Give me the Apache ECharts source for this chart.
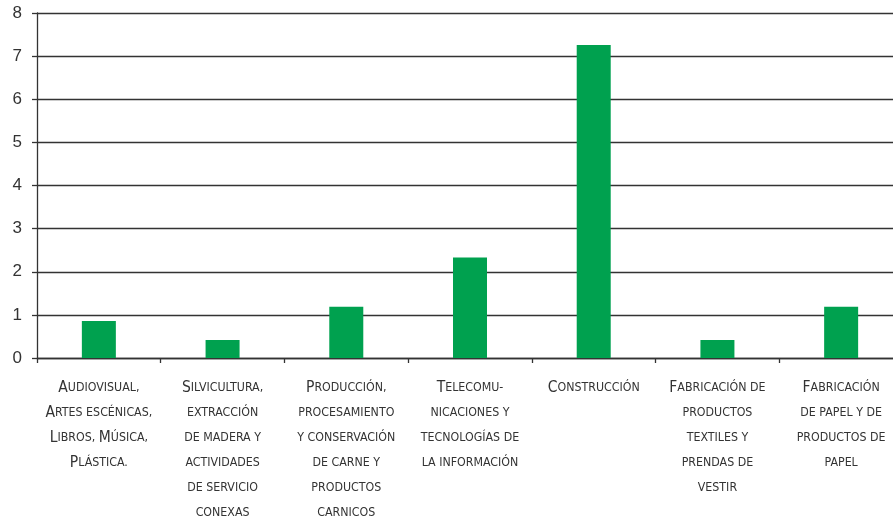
<!DOCTYPE html>
<html>
<head>
<meta charset="utf-8">
<script src="https://cdn.jsdelivr.net/npm/echarts@6/dist/echarts.min.js"></script>
<style>html,body{margin:0;padding:0;background:#fff}#c{width:893px;height:522px}</style>
</head>
<body>
<div id="c"></div>
<script>
// Category labels (line breaks as in the reference)
const categories = [
  "Audiovisual,\nArtes escénicas,\nLibros, Música,\nPlástica.",
  "Silvicultura,\nextracción\nde madera y\nactividades\nde servicio\nconexas",
  "Producción,\nprocesamiento\ny conservación\nde carne y\nproductos\ncarnicos",
  "Telecomu-\nnicaciones y\ntecnologías de\nla información",
  "Construcción",
  "Fabricación de\nproductos\ntextiles y\nprendas de\nvestir",
  "Fabricación\nde papel y de\nproductos de\npapel"
];
const values = [0.86, 0.42, 1.19, 2.33, 7.26, 0.42, 1.19];
const yTicks = [0, 1, 2, 3, 4, 5, 6, 7, 8];

// small-caps emulation: uppercase letters large, lowercase as small uppercase
function smallCaps(text) {
  return text.split("\n").map(line => {
    let out = "", cur = null, buf = "";
    for (const ch of line) {
      const isUp = ch !== ch.toLowerCase() && ch === ch.toUpperCase();
      const st = isUp ? "b" : "s";
      if (st !== cur) {
        if (buf) out += "{" + cur + "|" + buf + "}";
        buf = ""; cur = st;
      }
      buf += ch.toUpperCase();
    }
    if (buf) out += "{" + cur + "|" + buf + "}";
    return out;
  }).join("\n");
}

const FONT = "'DejaVu Sans Condensed', 'Liberation Sans Narrow', sans-serif";
const chart = echarts.init(document.getElementById('c'), null, {renderer: 'canvas'});
chart.setOption({
  animation: false,
  grid: {left: 37, right: -10, top: 13, bottom: 164, containLabel: false, outerBoundsMode: 'none'},
  xAxis: {
    type: 'category',
    data: categories,
    axisLine: {lineStyle: {color: '#333', width: 1.3}},
    axisTick: {show: true, length: 5, lineStyle: {color: '#333', width: 1.3}, alignWithLabel: false},
    axisLabel: {
      interval: 0,
      margin: 17,
      color: '#333',
      fontFamily: FONT,
      lineHeight: 25,
      formatter: v => smallCaps(v),
      rich: {
        b: {fontSize: 15.5, fontFamily: FONT, color: '#333', lineHeight: 25},
        s: {fontSize: 12.3, fontFamily: FONT, color: '#333', lineHeight: 25}
      }
    }
  },
  yAxis: {
    type: 'value',
    min: yTicks[0],
    max: yTicks[yTicks.length - 1],
    interval: 1,
    axisLine: {show: true, lineStyle: {color: '#333', width: 1.3}},
    axisTick: {show: true, length: 5, lineStyle: {color: '#333', width: 1.3}},
    axisLabel: {margin: 15, color: '#333', fontSize: 17, fontFamily: "'Liberation Sans', Arial, sans-serif"},
    splitLine: {show: true, lineStyle: {color: '#333', width: 1.3}}
  },
  series: [{
    type: 'bar',
    data: values,
    barWidth: 34,
    itemStyle: {color: '#00A14F'}
  }]
});
</script>
</body>
</html>
